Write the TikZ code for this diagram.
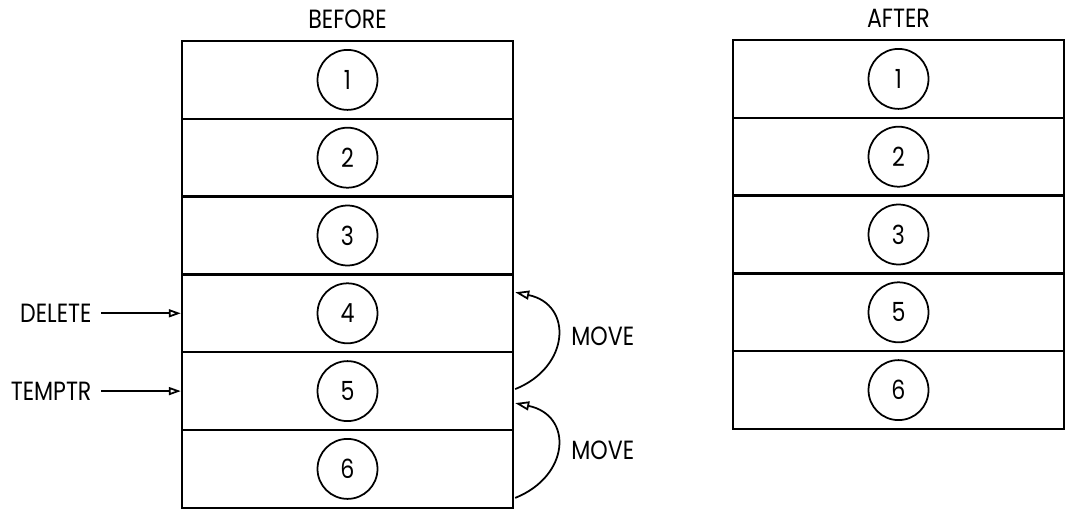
\documentclass[tikz,border=0pt]{standalone}
\usepackage{fontspec}
\setmainfont{Poppins}[FakeStretch=0.84]
\usetikzlibrary{arrows.meta, calc, positioning}

\begin{document}
\begin{tikzpicture}[
    x={(0.02cm,0cm)}, y={(0cm,-0.02cm)},
    >=Latex,
    cell/.style={draw, line width=1.4pt, minimum width=6.62cm, minimum height=1.556cm, inner sep=0pt},
    num/.style={draw, circle, line width=1pt, minimum size=1.2cm, inner sep=0pt, font=\fontsize{15}{17}\selectfont},
    lbl/.style={font=\fontsize{15}{18}\selectfont, inner sep=2pt},
    ptr/.style={-{Triangle[open, length=2.4mm, width=1.6mm]}, line width=1pt},
    mv/.style={-{Triangle[open, length=2.8mm, width=1.8mm]}, line width=1pt}
  ]
  \useasboundingbox (0,0) rectangle (1065,510);

  % before: six slots
  \foreach \i in {1,...,6} {
    \node[cell] (b\i) at (347.5, 2.1+77.8*\i) {};
    \node[num] (bn\i) at (b\i) {\i};
  }
  % after: slot 4 is gone
  \foreach \i/\t in {1/1, 2/2, 3/3, 4/5, 5/6} {
    \node[cell] (a\i) at (898.5, 1.1+77.8*\i) {};
    \node[num] (an\i) at (a\i) {\t};
  }
  \node[lbl, above=4pt of b1] (before) {BEFORE};
  \node[lbl, above=4pt of a1] (after) {AFTER};

  % pointers
  \node[lbl, left=1.71cm of b4.west] (del) {DELETE};
  \node[lbl, left=1.71cm of b5.west] (tmp) {TEMPTR};
  \draw[ptr, shorten <=3.5pt] (del.east) -- (b4.west);
  \draw[ptr, shorten <=3.5pt] (tmp.east) -- (b5.west);

  % moves
  \coordinate (m1s) at ($(b5.east)+(1,-2)$);
  \coordinate (m1e) at ($(b4.east)+(1,-21)$);
  \coordinate (m2s) at ($(b6.east)+(1,29)$);
  \coordinate (m2e) at ($(b5.east)+(1,12)$);
  \draw[mv] (m1s) .. controls +(55,-22) and +(58,12) .. (m1e);
  \draw[mv] (m2s) .. controls +(55,-22) and +(58,12) .. (m2e);
  \node[lbl, anchor=west] (mv1) at (567.5,336) {MOVE};
  \node[lbl, anchor=west] (mv2) at (567.5,450) {MOVE};
\end{tikzpicture}
\end{document}
